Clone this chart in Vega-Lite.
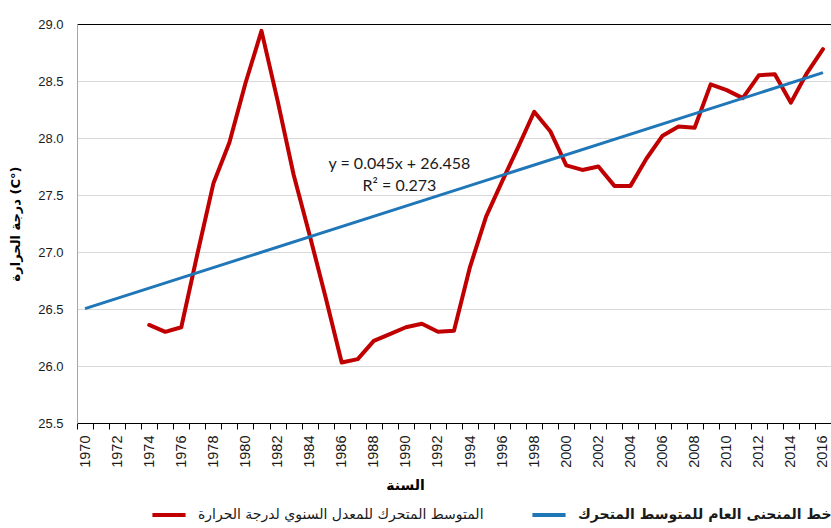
{
  "$schema": "https://vega.github.io/schema/vega-lite/v6.json",
  "width": 754,
  "height": 399,
  "autosize": "none",
  "padding": {"left": 77, "top": 24, "right": 0, "bottom": 105},
  "background": "white",
  "config": {"view": {"stroke": null}},
  "datasets": {
    "series": [
      {"year": 1974, "value": 26.36, "series": "المتوسط المتحرك للمعدل السنوي لدرجة الحرارة"},
      {"year": 1975, "value": 26.30, "series": "المتوسط المتحرك للمعدل السنوي لدرجة الحرارة"},
      {"year": 1976, "value": 26.34, "series": "المتوسط المتحرك للمعدل السنوي لدرجة الحرارة"},
      {"year": 1977, "value": 26.98, "series": "المتوسط المتحرك للمعدل السنوي لدرجة الحرارة"},
      {"year": 1978, "value": 27.60, "series": "المتوسط المتحرك للمعدل السنوي لدرجة الحرارة"},
      {"year": 1979, "value": 27.96, "series": "المتوسط المتحرك للمعدل السنوي لدرجة الحرارة"},
      {"year": 1980, "value": 28.48, "series": "المتوسط المتحرك للمعدل السنوي لدرجة الحرارة"},
      {"year": 1981, "value": 28.94, "series": "المتوسط المتحرك للمعدل السنوي لدرجة الحرارة"},
      {"year": 1982, "value": 28.33, "series": "المتوسط المتحرك للمعدل السنوي لدرجة الحرارة"},
      {"year": 1983, "value": 27.68, "series": "المتوسط المتحرك للمعدل السنوي لدرجة الحرارة"},
      {"year": 1984, "value": 27.15, "series": "المتوسط المتحرك للمعدل السنوي لدرجة الحرارة"},
      {"year": 1985, "value": 26.60, "series": "المتوسط المتحرك للمعدل السنوي لدرجة الحرارة"},
      {"year": 1986, "value": 26.03, "series": "المتوسط المتحرك للمعدل السنوي لدرجة الحرارة"},
      {"year": 1987, "value": 26.06, "series": "المتوسط المتحرك للمعدل السنوي لدرجة الحرارة"},
      {"year": 1988, "value": 26.22, "series": "المتوسط المتحرك للمعدل السنوي لدرجة الحرارة"},
      {"year": 1989, "value": 26.28, "series": "المتوسط المتحرك للمعدل السنوي لدرجة الحرارة"},
      {"year": 1990, "value": 26.34, "series": "المتوسط المتحرك للمعدل السنوي لدرجة الحرارة"},
      {"year": 1991, "value": 26.37, "series": "المتوسط المتحرك للمعدل السنوي لدرجة الحرارة"},
      {"year": 1992, "value": 26.30, "series": "المتوسط المتحرك للمعدل السنوي لدرجة الحرارة"},
      {"year": 1993, "value": 26.31, "series": "المتوسط المتحرك للمعدل السنوي لدرجة الحرارة"},
      {"year": 1994, "value": 26.87, "series": "المتوسط المتحرك للمعدل السنوي لدرجة الحرارة"},
      {"year": 1995, "value": 27.31, "series": "المتوسط المتحرك للمعدل السنوي لدرجة الحرارة"},
      {"year": 1996, "value": 27.62, "series": "المتوسط المتحرك للمعدل السنوي لدرجة الحرارة"},
      {"year": 1997, "value": 27.92, "series": "المتوسط المتحرك للمعدل السنوي لدرجة الحرارة"},
      {"year": 1998, "value": 28.23, "series": "المتوسط المتحرك للمعدل السنوي لدرجة الحرارة"},
      {"year": 1999, "value": 28.06, "series": "المتوسط المتحرك للمعدل السنوي لدرجة الحرارة"},
      {"year": 2000, "value": 27.76, "series": "المتوسط المتحرك للمعدل السنوي لدرجة الحرارة"},
      {"year": 2001, "value": 27.72, "series": "المتوسط المتحرك للمعدل السنوي لدرجة الحرارة"},
      {"year": 2002, "value": 27.75, "series": "المتوسط المتحرك للمعدل السنوي لدرجة الحرارة"},
      {"year": 2003, "value": 27.58, "series": "المتوسط المتحرك للمعدل السنوي لدرجة الحرارة"},
      {"year": 2004, "value": 27.58, "series": "المتوسط المتحرك للمعدل السنوي لدرجة الحرارة"},
      {"year": 2005, "value": 27.82, "series": "المتوسط المتحرك للمعدل السنوي لدرجة الحرارة"},
      {"year": 2006, "value": 28.02, "series": "المتوسط المتحرك للمعدل السنوي لدرجة الحرارة"},
      {"year": 2007, "value": 28.10, "series": "المتوسط المتحرك للمعدل السنوي لدرجة الحرارة"},
      {"year": 2008, "value": 28.09, "series": "المتوسط المتحرك للمعدل السنوي لدرجة الحرارة"},
      {"year": 2009, "value": 28.47, "series": "المتوسط المتحرك للمعدل السنوي لدرجة الحرارة"},
      {"year": 2010, "value": 28.42, "series": "المتوسط المتحرك للمعدل السنوي لدرجة الحرارة"},
      {"year": 2011, "value": 28.35, "series": "المتوسط المتحرك للمعدل السنوي لدرجة الحرارة"},
      {"year": 2012, "value": 28.55, "series": "المتوسط المتحرك للمعدل السنوي لدرجة الحرارة"},
      {"year": 2013, "value": 28.56, "series": "المتوسط المتحرك للمعدل السنوي لدرجة الحرارة"},
      {"year": 2014, "value": 28.31, "series": "المتوسط المتحرك للمعدل السنوي لدرجة الحرارة"},
      {"year": 2015, "value": 28.57, "series": "المتوسط المتحرك للمعدل السنوي لدرجة الحرارة"},
      {"year": 2016, "value": 28.78, "series": "المتوسط المتحرك للمعدل السنوي لدرجة الحرارة"}
    ],
    "trend": [
      {"year": 1970, "value": 26.503, "series": "خط المنحنى العام للمتوسط المتحرك"},
      {"year": 2016, "value": 28.573, "series": "خط المنحنى العام للمتوسط المتحرك"}
    ],
    "note": [
      {"year": 1989.6, "value": 27.775, "label": "y = 0.045x + 26.458\nR² = 0.273"}
    ]
  },
  "layer": [
    {
      "data": {"name": "series"},
      "mark": {"type": "line", "strokeWidth": 4, "strokeJoin": "round", "strokeCap": "round"},
      "encoding": {
        "x": {
          "field": "year", "type": "quantitative",
          "scale": {"domain": [1969.5, 2016.5], "nice": false, "zero": false},
          "axis": {
            "values": [1970,1971,1972,1973,1974,1975,1976,1977,1978,1979,1980,1981,1982,1983,1984,1985,1986,1987,1988,1989,1990,1991,1992,1993,1994,1995,1996,1997,1998,1999,2000,2001,2002,2003,2004,2005,2006,2007,2008,2009,2010,2011,2012,2013,2014,2015,2016],
            "tickCount": 100,
            "labelExpr": "datum.value % 2 === 0 ? '' + datum.value : ''",
            "labelAngle": -90,
            "labelAlign": "right",
            "labelBaseline": "middle",
            "labelFont": "Liberation Sans",
            "labelFontSize": 14.5,
            "labelColor": "#1a1a1a",
            "labelPadding": 6,
            "labelOverlap": false,
            "labelFlush": false,
            "tickOffset": -8.02,
            "labelOffset": 8.02,
            "tickSize": 6,
            "tickColor": "#000000",
            "domainColor": "#000000",
            "domainWidth": 1,
            "grid": false,
            "title": "السنة",
            "titleFont": "DejaVu Sans",
            "titleFontSize": 14,
            "titleFontWeight": "bold",
            "titleColor": "#000000",
            "titlePadding": 11,
            "titleX": 328
          }
        },
        "y": {
          "field": "value", "type": "quantitative",
          "scale": {"domain": [25.5, 29.0], "nice": false, "zero": false},
          "axis": {
            "values": [25.5, 26.0, 26.5, 27.0, 27.5, 28.0, 28.5, 29.0],
            "tickCount": 20,
            "format": ".1f",
            "ticks": false,
            "labelPadding": 14,
            "labelFont": "Liberation Sans",
            "labelFontSize": 13,
            "labelColor": "#1a1a1a",
            "domainColor": "#a6a6a6",
            "gridColor": {"condition": {"test": "datum.value === 29", "value": "#000000"}, "value": "#d9d9d9"},
            "gridWidth": 1,
            "title": "درجة الحرارة (C°)",
            "titleFont": "DejaVu Sans",
            "titleFontSize": 13,
            "titleFontWeight": "bold",
            "titleColor": "#000000",
            "titlePadding": 15
          }
        },
        "color": {
          "field": "series", "type": "nominal",
          "scale": {
            "domain": ["المتوسط المتحرك للمعدل السنوي لدرجة الحرارة", "خط المنحنى العام للمتوسط المتحرك"],
            "range": ["#c00000", "#2077b8"]
          },
          "legend": {
            "orient": "none",
            "direction": "horizontal",
            "legendX": 73,
            "legendY": 472,
            "title": null,
            "symbolType": "stroke",
            "symbolStrokeWidth": 4,
            "symbolSize": 1100,
            "labelFont": "DejaVu Sans",
            "labelFontSize": 14,
            "labelColor": "#1a1a1a",
            "labelLimit": 400,
            "labelOffset": 10,
            "columnPadding": 40,
            "encode": {
              "labels": {"update": {"fontWeight": {"signal": "datum.value === 'خط المنحنى العام للمتوسط المتحرك' ? 'bold' : 'normal'"}}}
            }
          }
        }
      }
    },
    {
      "data": {"name": "trend"},
      "mark": {"type": "line", "strokeWidth": 3},
      "encoding": {
        "x": {"field": "year", "type": "quantitative"},
        "y": {"field": "value", "type": "quantitative"},
        "color": {"field": "series", "type": "nominal"}
      }
    },
    {
      "data": {"name": "note"},
      "mark": {"type": "text", "font": "Lato", "fontSize": 16, "color": "#1a1a1a", "align": "center", "baseline": "middle", "lineBreak": "\n", "lineHeight": 22},
      "encoding": {
        "x": {"field": "year", "type": "quantitative"},
        "y": {"field": "value", "type": "quantitative"},
        "text": {"field": "label"}
      }
    }
  ]
}
